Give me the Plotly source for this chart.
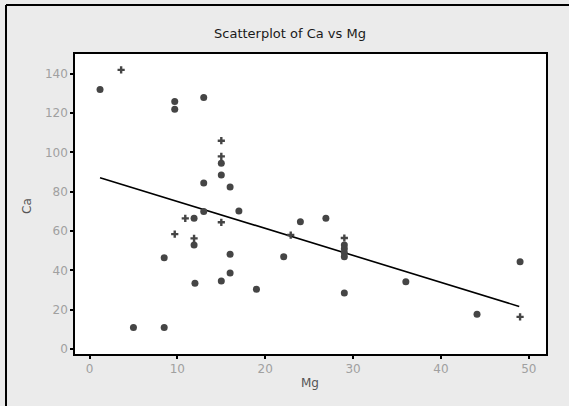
import plotly.graph_objects as go

# Larger solid points
mg_dot = [1.2, 5, 8.5, 8.5, 9.7, 9.7, 11.9, 11.9, 12, 13, 13, 13, 15, 15, 15,
          16, 16, 16, 17, 19, 22.1, 24, 26.9, 29, 29, 29, 29, 29, 36, 44.1, 49]
ca_dot = [132, 11, 11, 46.5, 126, 122, 66.5, 53, 33.5, 128, 84.5, 70, 94.5, 88.5, 34.6,
          82.5, 48.3, 38.7, 70.2, 30.4, 47, 64.8, 66.5, 53, 51, 49, 47, 28.5, 34.3, 17.7, 44.4]
# Small cross points
mg_plus = [3.6, 9.7, 10.9, 11.9, 15, 15, 15, 22.9, 29, 49]
ca_plus = [142, 58.5, 66.5, 56.3, 106, 98, 64.5, 58, 56.5, 16.4]
# Fitted line end points
fit_mg = [1.2, 48.9]
fit_ca = [87.2, 21.7]

x_ticks = [0, 10, 20, 30, 40, 50]
y_ticks = [0, 20, 40, 60, 80, 100, 120, 140]

mcol = "#454545"
fig = go.Figure()
fig.add_trace(go.Scatter(x=fit_mg, y=fit_ca, mode="lines",
                         line=dict(color="black", width=1.6), showlegend=False))
fig.add_trace(go.Scatter(x=mg_dot, y=ca_dot, mode="markers",
                         marker=dict(symbol="circle", size=7, color=mcol), showlegend=False))
fig.add_trace(go.Scatter(x=mg_plus, y=ca_plus, mode="markers",
                         marker=dict(symbol="cross", size=6, color=mcol), showlegend=False))

W, H = 569, 406
L, R, T, B = 75, 23, 54, 52
pw, ph = W - L - R, H - T - B

def px(xp):
    return (xp - L) / pw

def py(yp):
    return (H - B - yp) / ph

axis_common = dict(showgrid=False, zeroline=False, showline=True, mirror=True,
                   linecolor="black", linewidth=1.5, ticks="outside", ticklen=3,
                   tickcolor="black", tickwidth=1.5,
                   tickfont=dict(family="DejaVu Sans", size=12, color="#a0a0a0"))

fig.update_layout(
    width=W, height=H,
    margin=dict(l=L, r=R, t=T, b=B),
    paper_bgcolor="#ebebeb", plot_bgcolor="white",
    title=dict(text="Scatterplot of Ca vs Mg", x=290 / W, xref="container", xanchor="center",
               y=1 - 33 / H, yref="container", yanchor="middle",
               font=dict(family="DejaVu Sans", size=13, color="#1a1a1a")),
    xaxis=dict(range=[-1.65, 51.95], tickvals=x_ticks, **axis_common),
    yaxis=dict(range=[-2.5, 150.1], tickvals=y_ticks, **axis_common),
    annotations=[
        dict(text="Mg", x=px(310), y=py(383), xref="paper", yref="paper", showarrow=False,
             xanchor="center", yanchor="middle",
             font=dict(family="DejaVu Sans", size=12, color="#555555")),
        dict(text="Ca", x=px(27), y=py(206), xref="paper", yref="paper", showarrow=False,
             xanchor="center", yanchor="middle", textangle=-90,
             font=dict(family="DejaVu Sans", size=12, color="#555555")),
    ],
    shapes=[
        dict(type="line", xref="paper", yref="paper", x0=px(6), x1=px(6), y0=py(H), y1=py(5),
             line=dict(color="black", width=2)),
        dict(type="line", xref="paper", yref="paper", x0=px(6), x1=px(W), y0=py(5), y1=py(5),
             line=dict(color="black", width=2)),
    ],
)

fig.write_html("out.html", config={"displayModeBar": False},
               post_script="document.body.style.margin='0';document.body.style.overflow='hidden';")
